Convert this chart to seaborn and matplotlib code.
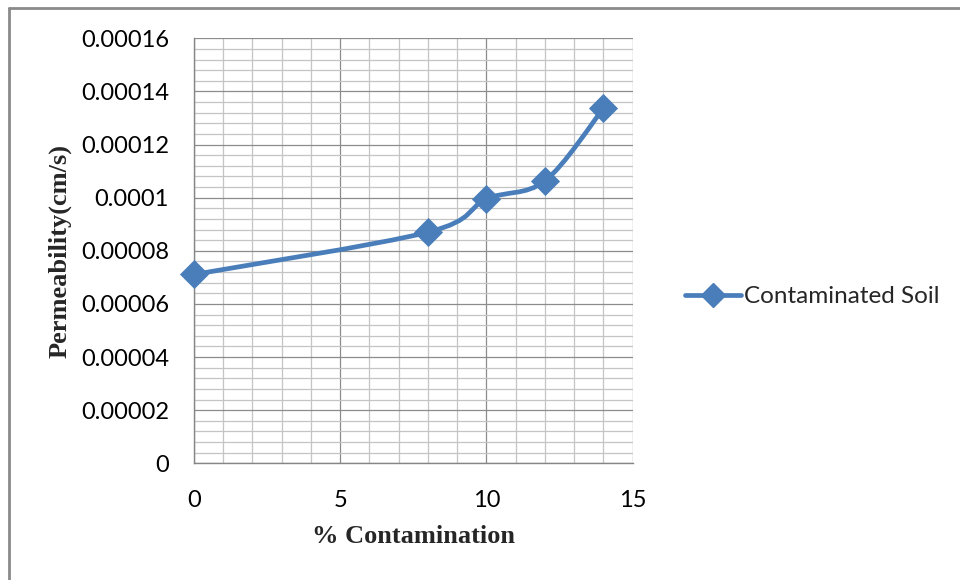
import numpy as np
import pandas as pd
import matplotlib
matplotlib.use("Agg")
import matplotlib.pyplot as plt
import seaborn as sns
from matplotlib.path import Path
from matplotlib.patches import PathPatch
from matplotlib.lines import Line2D
from matplotlib.ticker import MultipleLocator

contamination = [0, 8, 10, 12, 14]
permeability = [0.0000711, 0.0000870, 0.0000995, 0.0001063, 0.0001336]
series_name = "Contaminated Soil"
x_label = "% Contamination"
y_label = "Permeability(cm/s)"
y_tick_labels = ["0", "0.00002", "0.00004", "0.00006", "0.00008", "0.0001",
                 "0.00012", "0.00014", "0.00016"]
x_tick_labels = ["0", "5", "10", "15"]

df = pd.DataFrame({"x": contamination, "y": permeability})

sns.set_style("white")
plt.rcParams["font.family"] = ["Lato", "DejaVu Sans"]

color = "#4A7EBB"
fig = plt.figure(figsize=(9.6, 5.8), dpi=100)
ax = fig.add_axes([0.2021, 0.2012, 0.659 - 0.2021, 0.934 - 0.2012])

# Excel-style smoothed line (Catmull-Rom as cubic Bezier) through the data points
xs = np.array(contamination, dtype=float)
ys = np.array(permeability, dtype=float)
pts = np.column_stack([xs, ys])
n = len(pts)
verts = [tuple(pts[0])]
codes = [Path.MOVETO]
for i in range(n - 1):
    p0 = pts[i - 1] if i > 0 else pts[i]
    p1 = pts[i]
    p2 = pts[i + 1]
    p3 = pts[i + 2] if i + 2 < n else pts[i + 1]
    c1 = p1 + (p2 - p0) / 6.0
    c2 = p2 - (p3 - p1) / 6.0
    verts += [tuple(c1), tuple(c2), tuple(p2)]
    codes += [Path.CURVE4] * 3
ax.add_patch(PathPatch(Path(verts, codes), facecolor="none", edgecolor=color,
                       lw=3.4, capstyle="round", joinstyle="round", zorder=3))

sns.scatterplot(data=df, x="x", y="y", marker="D", s=220, color=color,
                edgecolor=color, linewidth=0, ax=ax, zorder=4, legend=False,
                clip_on=False)

ax.set_xlim(0, 15)
ax.set_ylim(0, 0.00016)
ax.xaxis.set_minor_locator(MultipleLocator(1))
ax.yaxis.set_minor_locator(MultipleLocator(0.000004))
ax.set_yticks([i * 0.00002 for i in range(len(y_tick_labels))])
ax.set_yticklabels(y_tick_labels)
ax.set_xticks([0, 5, 10, 15])
ax.set_xticklabels(x_tick_labels)

ax.grid(which="major", color="#8c8c8c", lw=0.9)
ax.grid(which="minor", color="#c4c4c4", lw=0.9)
ax.set_axisbelow(True)

for s in ["top", "right"]:
    ax.spines[s].set_visible(False)
for s in ["left", "bottom"]:
    ax.spines[s].set_color("#868686")
    ax.spines[s].set_linewidth(1.0)

ax.tick_params(axis="both", which="major", direction="out", length=9, width=1,
               color="#868686", labelsize=17, labelcolor="#000000", pad=9)
ax.tick_params(axis="x", which="major", pad=10)
ax.tick_params(axis="both", which="minor", length=0)

ax.set_xlabel(x_label, family=["Liberation Serif"], fontweight="bold", fontsize=19, labelpad=10)
ax.set_ylabel(y_label, family=["Liberation Serif"], fontweight="bold", fontsize=19, labelpad=7)

handle = Line2D([0], [0], color=color, lw=3.4, marker="D", markersize=12,
                markerfacecolor=color, markeredgecolor=color)
fig.legend([handle], [series_name], loc="center left", bbox_to_anchor=(0.7135, 0.488),
           frameon=False, fontsize=17.5, handlelength=2.3, handletextpad=0.12,
           borderaxespad=0, borderpad=0)

# outer chart frame (top and left edges visible)
fig.add_artist(Line2D([9 / 960, 9 / 960], [0, 1 - 8 / 580], transform=fig.transFigure,
                      color="#8a8a8a", lw=2))
fig.add_artist(Line2D([9 / 960, 1], [1 - 8 / 580, 1 - 8 / 580], transform=fig.transFigure,
                      color="#8a8a8a", lw=2))

fig.savefig("out.png", dpi=100, facecolor="white")
